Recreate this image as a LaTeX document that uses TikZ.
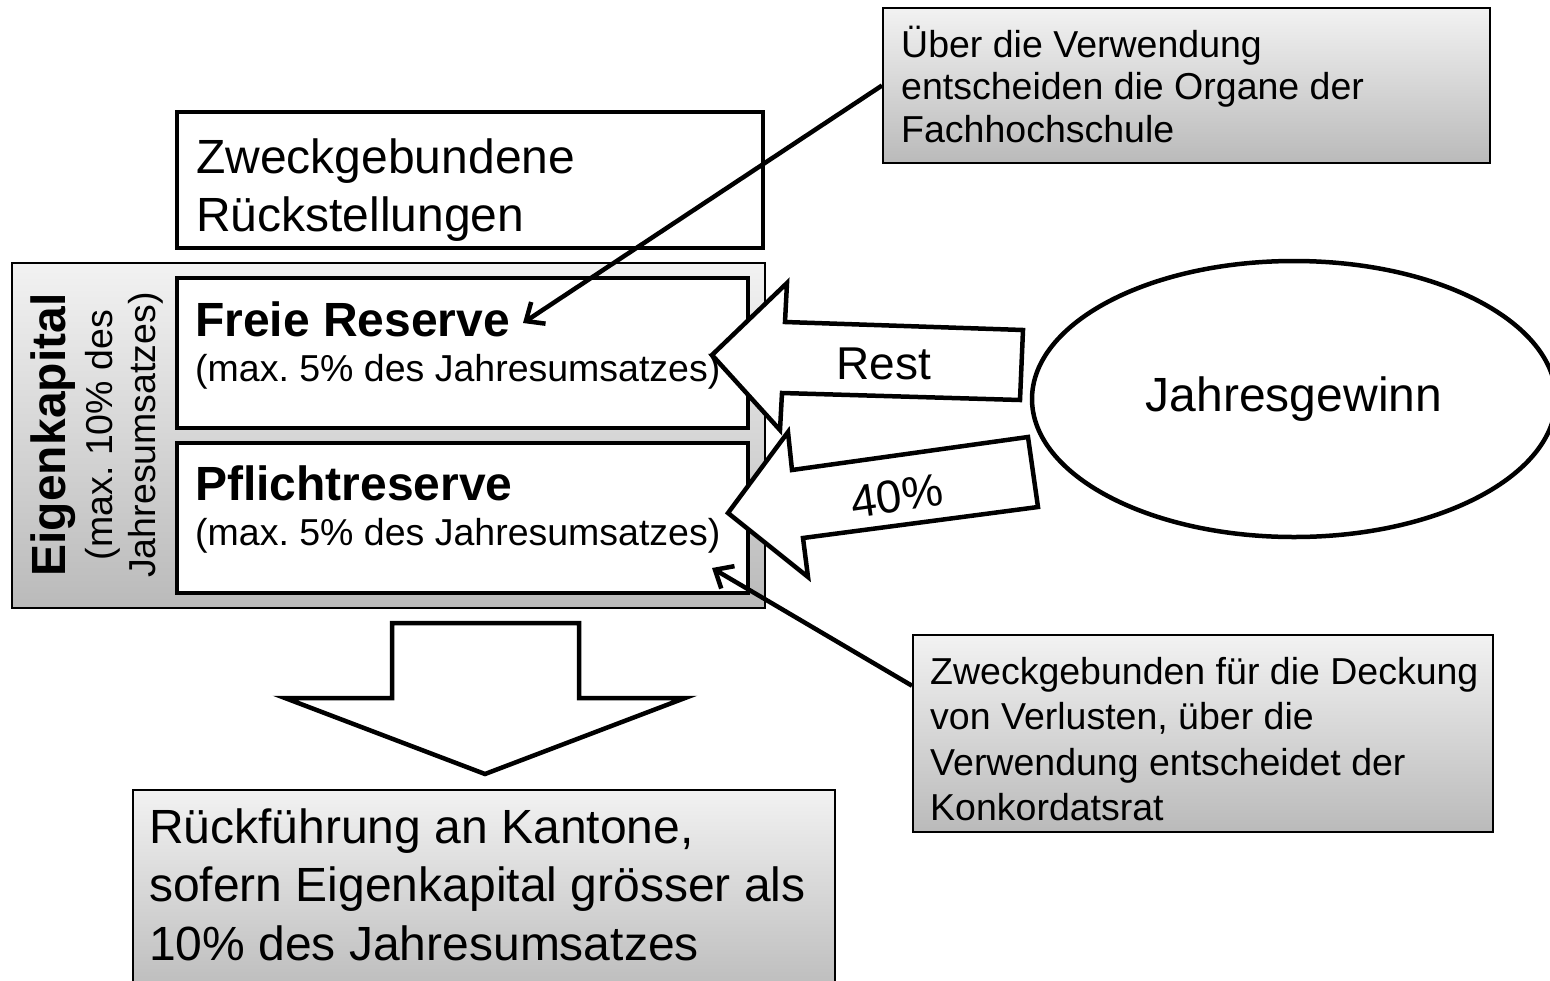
\documentclass[tikz,border=0pt]{standalone}
\usepackage{fontspec}
\setmainfont{Liberation Sans}
\usetikzlibrary{shapes.geometric, arrows.meta, calc}
\definecolor{gtop}{RGB}{242,242,242}
\definecolor{gbot}{RGB}{186,186,186}
\newcommand{\mylines}[1]{\begin{tabular}[t]{@{}l@{}}#1\end{tabular}}
\frenchspacing
\begin{document}
\begin{tikzpicture}[x=1pt,y=-1pt,
  wbox/.style={draw=black, line width=4.5pt, fill=white, rectangle, inner sep=0pt},
  gbox/.style={draw=black, line width=2pt, top color=gtop, bottom color=gbot, rectangle, inner sep=0pt},
  txt/.style={inner sep=0pt, anchor=base west},
  big/.style={font=\fontsize{48}{58}\selectfont},
  bigb/.style={font=\bfseries\fontsize{48}{58}\selectfont},
  small/.style={font=\fontsize{37.5}{42.5}\selectfont},
  blockarrow/.style={draw=black, line width=4.5pt, fill=white, line join=miter},
  conn/.style={line width=4.5pt, -{Straight Barb[length=15pt,width=26pt]}}
]
\useasboundingbox (0,0) rectangle (1550,980);

% Eigenkapital frame
\node[gbox, minimum width=753pt, minimum height=345pt] (ek) at (388.5,435.5) {};
\node[inner sep=0pt, anchor=base, rotate=90, bigb] (ekt1) at (65,435) {Eigenkapital};
\node[inner sep=0pt, anchor=base, rotate=90, small] (ekt2) at (112,435) {(max. 10\% des};
\node[inner sep=0pt, anchor=base, rotate=90, small] (ekt3) at (155,435) {Jahresumsatzes)};

% white boxes
\node[wbox, minimum width=586pt, minimum height=136pt] (zw) at (470,180) {};
\node[txt, big] (zwt) at (196,173) {\mylines{Zweckgebundene\\Rückstellungen}};

\node[wbox, minimum width=571pt, minimum height=150pt] (fr) at (462.5,353) {};
\node[txt, bigb] (frt1) at (195,336) {Freie Reserve};
\node[txt, small] (frt2) at (195,381) {(max. 5\% des Jahresumsatzes)};

\node[wbox, minimum width=571pt, minimum height=150pt] (pf) at (462.5,518) {};
\node[txt, bigb] (pft1) at (195,500) {Pflichtreserve};
\node[txt, small] (pft2) at (195,545) {(max. 5\% des Jahresumsatzes)};

% Jahresgewinn
\node[ellipse, draw=black, line width=4.5pt, fill=white, minimum width=524pt, minimum height=276pt, inner sep=0pt, big] (jg) at (1294,399) {Jahresgewinn};

% block arrows
\draw[blockarrow] (712,355) -- (787,283) -- (785,322) -- (1023,330) -- (1020,400) -- (782,393) -- (780,430) -- cycle;
\node[inner sep=0pt, font=\fontsize{46}{55}\selectfont] (rest) at (884,364) {Rest};
\draw[blockarrow] (728,513) -- (788,432) -- (792,470) -- (1028,437) -- (1038,507) -- (803,538) -- (808,577) -- cycle;
\node[inner sep=0pt, rotate=8, font=\fontsize{46}{55}\selectfont] (pct) at (897,496) {40\%};

% grey note boxes
\node[gbox, minimum width=607pt, minimum height=155pt] (tr) at (1186.5,85.5) {};
\node[txt, small] (trt) at (901,57) {\mylines{Über die Verwendung\\entscheiden die Organe der\\Fachhochschule}};

\node[gbox, minimum width=580pt, minimum height=197pt] (br) at (1203,733.5) {};
\node[txt, font=\fontsize{37.5}{45.5}\selectfont] (brt) at (930,684) {\mylines{Zweckgebunden für die Deckung\\von Verlusten, über die\\Verwendung entscheidet der\\Konkordatsrat}};

% down arrow and bottom box
\draw[blockarrow] (392,623) -- (579,623) -- (579,698) -- (685,698) -- (485,774) -- (285,698) -- (392,698) -- cycle;
\node[gbox, minimum width=702pt, minimum height=210pt] (bt) at (484,895) {};
\node[txt, font=\fontsize{48}{58.5}\selectfont] (btt) at (149,843) {\mylines{Rückführung an Kantone,\\sofern Eigenkapital grösser als\\10\% des Jahresumsatzes}};

% connectors
\coordinate (frtip) at (523,323);
\draw[conn] (tr.west) -- (frtip);
\coordinate (pftip) at (712,568);
\draw[conn] ($(br.north west)!0.26!(br.south west)$) -- (pftip);
\end{tikzpicture}
\end{document}
